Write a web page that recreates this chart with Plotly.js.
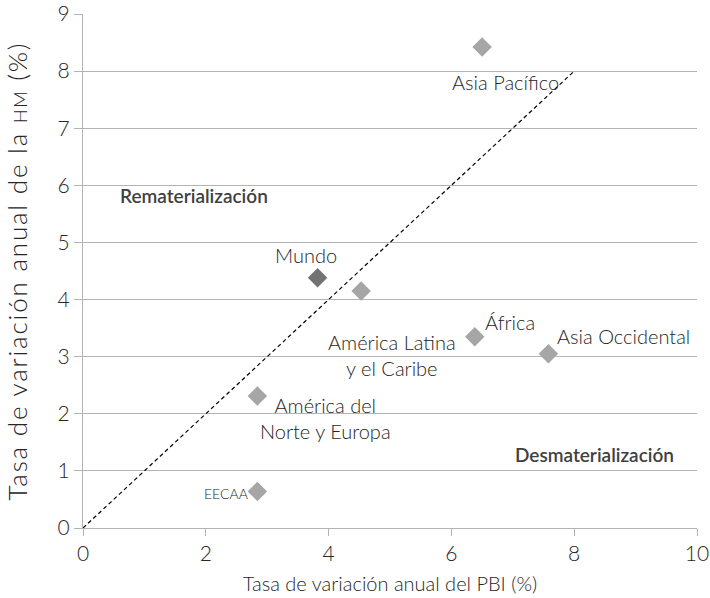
<!DOCTYPE html>
<html>
<head>
<meta charset="utf-8">
<script src="https://cdn.plot.ly/plotly-3.0.1.min.js"></script>
<style>html,body{margin:0;padding:0;background:#fff;}#chart{width:710px;height:598px;}
.ytitle{letter-spacing:1.8px;}</style>
</head>
<body>
<div id="chart"></div>
<script>
const regions = ["Asia Pacífico", "Mundo", "América Latina y el Caribe", "África", "Asia Occidental", "América del Norte y Europa", "EECAA"];
const gdpGrowth = [6.5, 3.82, 4.53, 6.38, 7.58, 2.84, 2.84];
const hmGrowth = [8.42, 4.38, 4.15, 3.35, 3.05, 2.31, 0.64];
const markerColors = ["#a6a6a6", "#737373", "#a6a6a6", "#a6a6a6", "#a6a6a6", "#a6a6a6", "#a6a6a6"];
const labelText = ["Asia Pacífico", "Mundo", "América Latina<br>y el Caribe", "África", "Asia Occidental", "América del<br>Norte y Europa", "EECAA"];
const labelDx = [23, -12, 31, 35, 75, 68, -31];
const labelDy = [35, -23, 64, -15, -18, 22, 2];
const labelSize = [20, 20, 20, 20, 20, 20, 14];
const refLineX = [0, 8];
const refLineY = [0, 8];
const zoneLabels = ["Rematerialización", "Desmaterialización"];
const zoneX = [0.57, 7.0];
const zoneY = [5.82, 1.28];

const font = "Lato, 'Open Sans', sans-serif";
const txt = '#262626';
const annotations = regions.map((r, i) => ({
  x: gdpGrowth[i], y: hmGrowth[i], xref: 'x', yref: 'y',
  text: labelText[i], showarrow: false,
  xshift: labelDx[i], yshift: -labelDy[i],
  font: {family: font, size: labelSize[i], color: txt, weight: 300},
  align: 'center'
}));
zoneLabels.forEach((t, i) => annotations.push({
  x: zoneX[i], y: zoneY[i], xref: 'x', yref: 'y', xanchor: 'left',
  text: t, showarrow: false,
  font: {family: font, size: 19, color: '#404040', weight: 600}
}));

const traces = [
  {x: refLineX, y: refLineY, mode: 'lines', line: {color: '#000', width: 1.2, dash: '4px,3px'}, hoverinfo: 'skip'},
  {x: gdpGrowth, y: hmGrowth, mode: 'markers', text: regions,
   marker: {symbol: 'diamond', size: 15, color: markerColors, line: {width: 0}}}
];

const layout = {
  width: 710, height: 598,
  margin: {l: 83, r: 13, t: 14, b: 70},
  paper_bgcolor: '#fff', plot_bgcolor: '#fff',
  showlegend: false,
  font: {family: font, color: txt},
  xaxis: {
    range: [0, 10], dtick: 2, tick0: 0, showgrid: false, zeroline: false,
    showline: true, linecolor: '#b3b3b3', linewidth: 1,
    ticks: 'outside', ticklen: 7, tickcolor: '#b3b3b3',
    tickfont: {family: font, size: 21, color: txt, weight: 300},
    title: {text: 'Tasa de variación anual del PBI (%)', font: {family: font, size: 20, color: txt, weight: 300}, standoff: 12}
  },
  yaxis: {
    range: [0, 9], dtick: 1, tick0: 0, showgrid: true, gridcolor: '#b3b3b3', gridwidth: 1, zeroline: false,
    showline: true, linecolor: '#b3b3b3', linewidth: 1,
    ticks: 'outside', ticklen: 8, tickcolor: '#b3b3b3',
    tickfont: {family: font, size: 21, color: txt, weight: 300},
    title: {text: 'Tasa de variación anual de la <span style="font-size:18px">HM</span> (%)', font: {family: font, size: 26, color: txt, weight: 300}, standoff: 22}
  },
  annotations: annotations
};

Plotly.newPlot('chart', traces, layout, {displayModeBar: false, staticPlot: true});
</script>
</body>
</html>
